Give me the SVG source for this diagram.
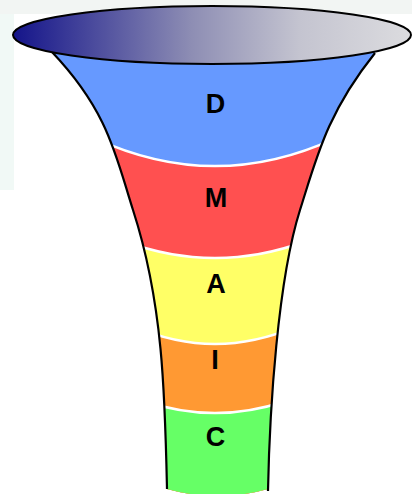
<svg xmlns="http://www.w3.org/2000/svg" width="412" height="494" viewBox="0 0 412 494">
  <defs>
    <linearGradient id="rimGrad" x1="0" y1="0" x2="1" y2="0">
      <stop offset="0" stop-color="#14148a"/>
      <stop offset="0.45" stop-color="#8e8eb4"/>
      <stop offset="0.72" stop-color="#c4c4d0"/>
      <stop offset="1" stop-color="#dcdcdf"/>
    </linearGradient>
    <clipPath id="funnelClip">
      <path d="M52,52 C109,112 116,157 133,210 C163.2,303 165,396 167,489 Q217.5,503 268,489 C269.6,409 277.8,280 300,210 C316.8,157 327,113 375,53 L375,40 L52,40 Z"/>
    </clipPath>
    <style>
      .label { font-family: "Liberation Sans", Arial, sans-serif; font-weight: bold; font-size: 27px; fill: #000000; text-anchor: middle; }
      .sep { fill: none; stroke: #ffffff; stroke-width: 2.5; }
      .side { fill: none; stroke: #000000; stroke-width: 2.2; }
    </style>
  </defs>

  <rect x="0" y="0" width="412" height="494" fill="#ffffff"/>
  <rect x="0" y="0" width="14" height="190" fill="#f1f9f6"/>
  <rect x="0" y="0" width="412" height="14" fill="#f2f5f3"/>

  <g id="funnel-body" clip-path="url(#funnelClip)">
    <g id="band-D">
      <rect x="40" y="30" width="350" height="480" fill="#6699ff"/>
    </g>
    <g id="band-M">
      <path d="M95,138.3 Q215,193.7 335,138.3 L335,510 L95,510 Z" fill="#ff5050"/>
    </g>
    <g id="band-A">
      <path d="M125,241.5 Q215,274.5 305,241.5 L305,510 L125,510 Z" fill="#ffff66"/>
    </g>
    <g id="band-I">
      <path d="M135,326.9 Q215,361.1 295,326.9 L295,510 L135,510 Z" fill="#ff9933"/>
    </g>
    <g id="band-C">
      <path d="M145,401.2 Q215,424.8 285,401.2 L285,510 L145,510 Z" fill="#66ff66"/>
    </g>
    <g id="separators">
      <path class="sep" d="M95,138.3 Q215,193.7 335,138.3"/>
      <path class="sep" d="M125,241.5 Q215,274.5 305,241.5"/>
      <path class="sep" d="M135,326.9 Q215,361.1 295,326.9"/>
      <path class="sep" d="M145,401.2 Q215,424.8 285,401.2"/>
    </g>
  </g>

  <g id="connectors">
    <path class="side" d="M52,52 C109,112 116,157 133,210 C163.2,303 165,396 167,489"/>
    <path class="side" d="M375,53 C327,113 316.8,157 300,210 C277.8,280 269.6,409 268,491"/>
  </g>

  <g id="rim">
    <ellipse cx="212" cy="35" rx="199" ry="29" fill="url(#rimGrad)" stroke="#000000" stroke-width="2"/>
  </g>

  <g id="label-D"><text class="label" x="215.5" y="113">D</text></g>
  <g id="label-M"><text class="label" x="216" y="207">M</text></g>
  <g id="label-A"><text class="label" x="216" y="292.5">A</text></g>
  <g id="label-I"><text class="label" x="215" y="369">I</text></g>
  <g id="label-C"><text class="label" x="215.5" y="446">C</text></g>
</svg>
